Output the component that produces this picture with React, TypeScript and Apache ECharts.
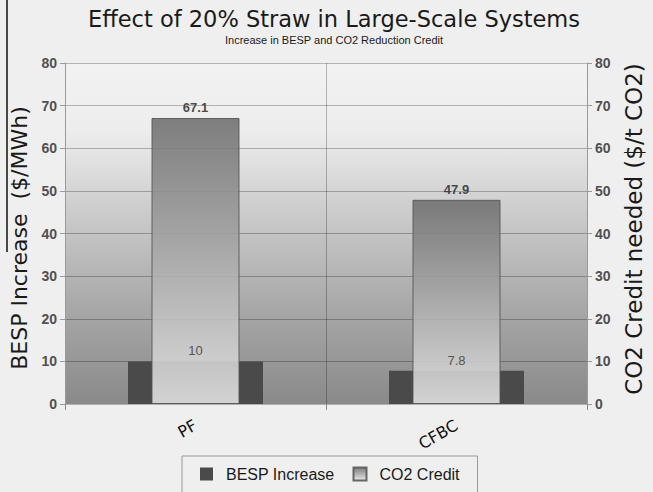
import React, { useEffect, useRef } from 'react';
import * as echarts from 'echarts';

// Chart data
const categories = ['PF', 'CFBC'];
const bespIncrease = [10, 7.8]; // $/MWh
const co2Credit = [67.1, 47.9]; // $/t CO2
const seriesNames = ['BESP Increase', 'CO2 Credit'];

const titleText = 'Effect of 20% Straw in Large-Scale Systems';
const subtitleText = 'Increase in BESP and CO2 Reduction Credit';
const leftAxisName = 'BESP Increase  ($/MWh)';
const rightAxisName = 'CO2 Credit needed ($/t CO2)';

const plotGradient = {
  type: 'linear', x: 0, y: 0, x2: 0, y2: 1,
  colorStops: [
    { offset: 0, color: '#f2f2f2' },
    { offset: 0.2, color: '#ededed' },
    { offset: 0.45, color: '#cacaca' },
    { offset: 0.7, color: '#aaaaaa' },
    { offset: 1, color: '#8a8a8a' },
  ],
};

const creditGradient = {
  type: 'linear', x: 0, y: 0, x2: 0, y2: 1,
  colorStops: [
    { offset: 0, color: '#6e6e6e' },
    { offset: 1, color: '#e6e6e6' },
  ],
};

export default function App() {
  const ref = useRef<HTMLDivElement>(null);

  useEffect(() => {
    const chart = echarts.init(ref.current!, null, { renderer: 'svg' });
    const valueAxisBase = {
      type: 'value',
      min: 0,
      max: 80,
      interval: 10,
      nameLocation: 'middle',
      axisLine: { show: true, lineStyle: { color: '#9a9a9a' } },
      axisTick: { show: true, length: 5, lineStyle: { color: '#9a9a9a' } },
      axisLabel: {
        fontFamily: 'Liberation Sans',
        fontSize: 14,
        fontWeight: 'bold',
        color: '#505050',
        margin: 8,
      },
    };
    chart.setOption({
      animation: false,
      backgroundColor: '#efefef',
      title: {
        text: titleText,
        subtext: subtitleText,
        left: 334,
        top: 7,
        padding: 0,
        itemGap: 4,
        textAlign: 'center',
        textStyle: { fontFamily: 'DejaVu Sans', fontSize: 22.5, fontWeight: 'normal', color: '#1a1a1a' },
        subtextStyle: { fontFamily: 'Liberation Sans', fontSize: 11, color: '#1a1a1a' },
      },
      legend: {
        data: seriesNames,
        left: 182,
        top: 456,
        orient: 'horizontal',
        borderColor: '#9a9a9a',
        borderWidth: 1,
        padding: [10, 18, 14, 18],
        itemWidth: 13,
        itemHeight: 13,
        itemGap: 18,
        icon: 'rect',
        textStyle: {
          fontFamily: 'Liberation Sans',
          fontSize: 16,
          color: '#1a1a1a',
          padding: [0, 0, 0, 8],
        },
      },
      grid: {
        left: 60,
        right: 53,
        top: 63,
        bottom: 88,
        show: true,
        backgroundColor: plotGradient,
        borderWidth: 0,
      },
      xAxis: [
        {
          type: 'category',
          data: categories,
          position: 'bottom',
          axisLine: { show: false },
          axisTick: { show: true, length: 6, lineStyle: { color: '#8a8a8a' } },
          splitLine: { show: true, lineStyle: { color: 'rgba(0,0,0,0.26)' } },
          axisLabel: {
            rotate: 30,
            margin: 20,
            fontFamily: 'DejaVu Sans',
            fontSize: 16,
            color: '#111',
          },
        },
        { type: 'category', data: categories, show: false },
      ],
      yAxis: [
        {
          ...valueAxisBase,
          name: leftAxisName,
          nameGap: 35,
          nameTextStyle: {
            fontFamily: 'DejaVu Sans',
            fontSize: 22,
            color: '#1a1a1a',
            padding: [0, 9, 0, 0],
          },
          position: 'left',
          splitLine: { show: true, lineStyle: { color: 'rgba(0,0,0,0.26)' } },
        },
        {
          ...valueAxisBase,
          name: rightAxisName,
          nameGap: 35,
          nameTextStyle: {
            fontFamily: 'DejaVu Sans',
            fontSize: 23,
            color: '#1a1a1a',
            padding: [0, 0, 0, 9],
          },
          position: 'right',
          splitLine: { show: false },
        },
      ],
      series: [
        {
          name: seriesNames[0],
          type: 'bar',
          xAxisIndex: 0,
          yAxisIndex: 0,
          data: bespIncrease,
          barWidth: 135,
          itemStyle: { color: '#4a4a4a' },
          label: {
            show: true,
            position: 'top',
            distance: 4,
            fontFamily: 'Liberation Sans',
            fontSize: 13,
            color: '#555',
          },
        },
        {
          name: seriesNames[1],
          type: 'bar',
          xAxisIndex: 1,
          yAxisIndex: 1,
          data: co2Credit,
          barWidth: 88,
          itemStyle: { color: creditGradient, opacity: 0.88, borderColor: '#555', borderWidth: 1 },
          label: {
            show: true,
            position: 'top',
            distance: 4,
            fontFamily: 'Liberation Sans',
            fontSize: 13,
            fontWeight: 'bold',
            color: '#333',
          },
        },
      ],
      graphic: [
        {
          type: 'line',
          shape: { x1: 7, y1: 0, x2: 7, y2: 252 },
          style: { stroke: '#111', lineWidth: 1.5 },
        },
      ],
    });
    return () => chart.dispose();
  }, []);

  return (
    <div
      ref={ref}
      style={{ position: 'fixed', left: 0, top: 0, width: 653, height: 492 }}
    />
  );
}
